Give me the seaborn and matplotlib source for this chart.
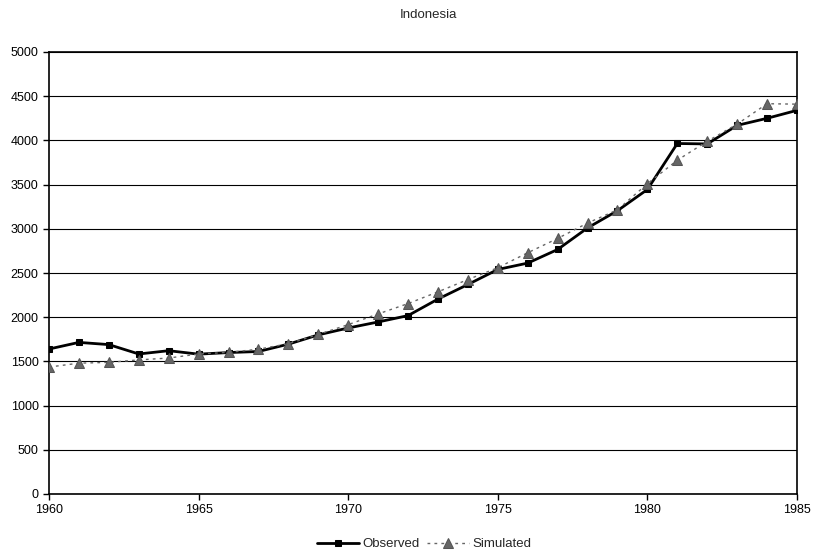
import matplotlib
matplotlib.use("Agg")
import matplotlib.pyplot as plt
import seaborn as sns
import pandas as pd

years = list(range(1960, 1986))
observed = [1640, 1715, 1690, 1584, 1621, 1582, 1600, 1612, 1695, 1800,
            1878, 1946, 2018, 2205, 2370, 2540, 2612, 2766, 3010, 3205,
            3445, 3965, 3960, 4170, 4250, 4340]
simulated = [1436, 1480, 1489, 1517, 1538, 1584, 1602, 1638, 1700, 1805,
             1916, 2037, 2154, 2287, 2426, 2560, 2729, 2891, 3065, 3215,
             3510, 3776, 3990, 4184, 4415, 4410]
title = "Indonesia"
series_names = ["Observed", "Simulated"]

sns.set_style("white")
plt.rcParams['font.family'] = ['Liberation Sans', 'DejaVu Sans']

df = pd.DataFrame({"Year": years, series_names[0]: observed, series_names[1]: simulated})

fig = plt.figure(figsize=(8.13, 5.56), dpi=100)
ax = fig.add_axes([49/813, 1 - 494/556, (797 - 49)/813, (494 - 52)/556])

sns.lineplot(data=df, x="Year", y=series_names[0], ax=ax, color="black", lw=2,
             marker="s", markersize=5, markeredgecolor="black", label=series_names[0], zorder=3)
sns.lineplot(data=df, x="Year", y=series_names[1], ax=ax, color="#666666", lw=1,
             linestyle=(0, (2, 3)), marker="^", markersize=6.5, markeredgecolor="#555555",
             markerfacecolor="#666666", label=series_names[1], zorder=4)

ax.set_xlim(1960, 1985)
ax.set_ylim(0, 5000)
ax.set_xticks(range(1960, 1986, 5))
ax.set_yticks(range(0, 5001, 500))
ax.yaxis.grid(True, color="black", lw=0.8)
ax.xaxis.grid(False)
ax.set_xlabel("")
ax.set_ylabel("")
for s in ax.spines.values():
    s.set_visible(True)
    s.set_color("black")
    s.set_linewidth(1.2)
ax.tick_params(axis="both", direction="out", length=4, width=1, colors="black",
               labelsize=9, left=True, bottom=True)

fig.text(428/813, 1 - 15/556, title, ha="center", va="center", fontsize=9.5)

leg = ax.legend(loc="center", bbox_to_anchor=(424/813, 1 - 544/556),
                bbox_transform=fig.transFigure, ncol=2, frameon=False,
                fontsize=9.5, handlelength=3.2, columnspacing=0.6, handletextpad=0.2)

fig.savefig("out.png", dpi=100)
